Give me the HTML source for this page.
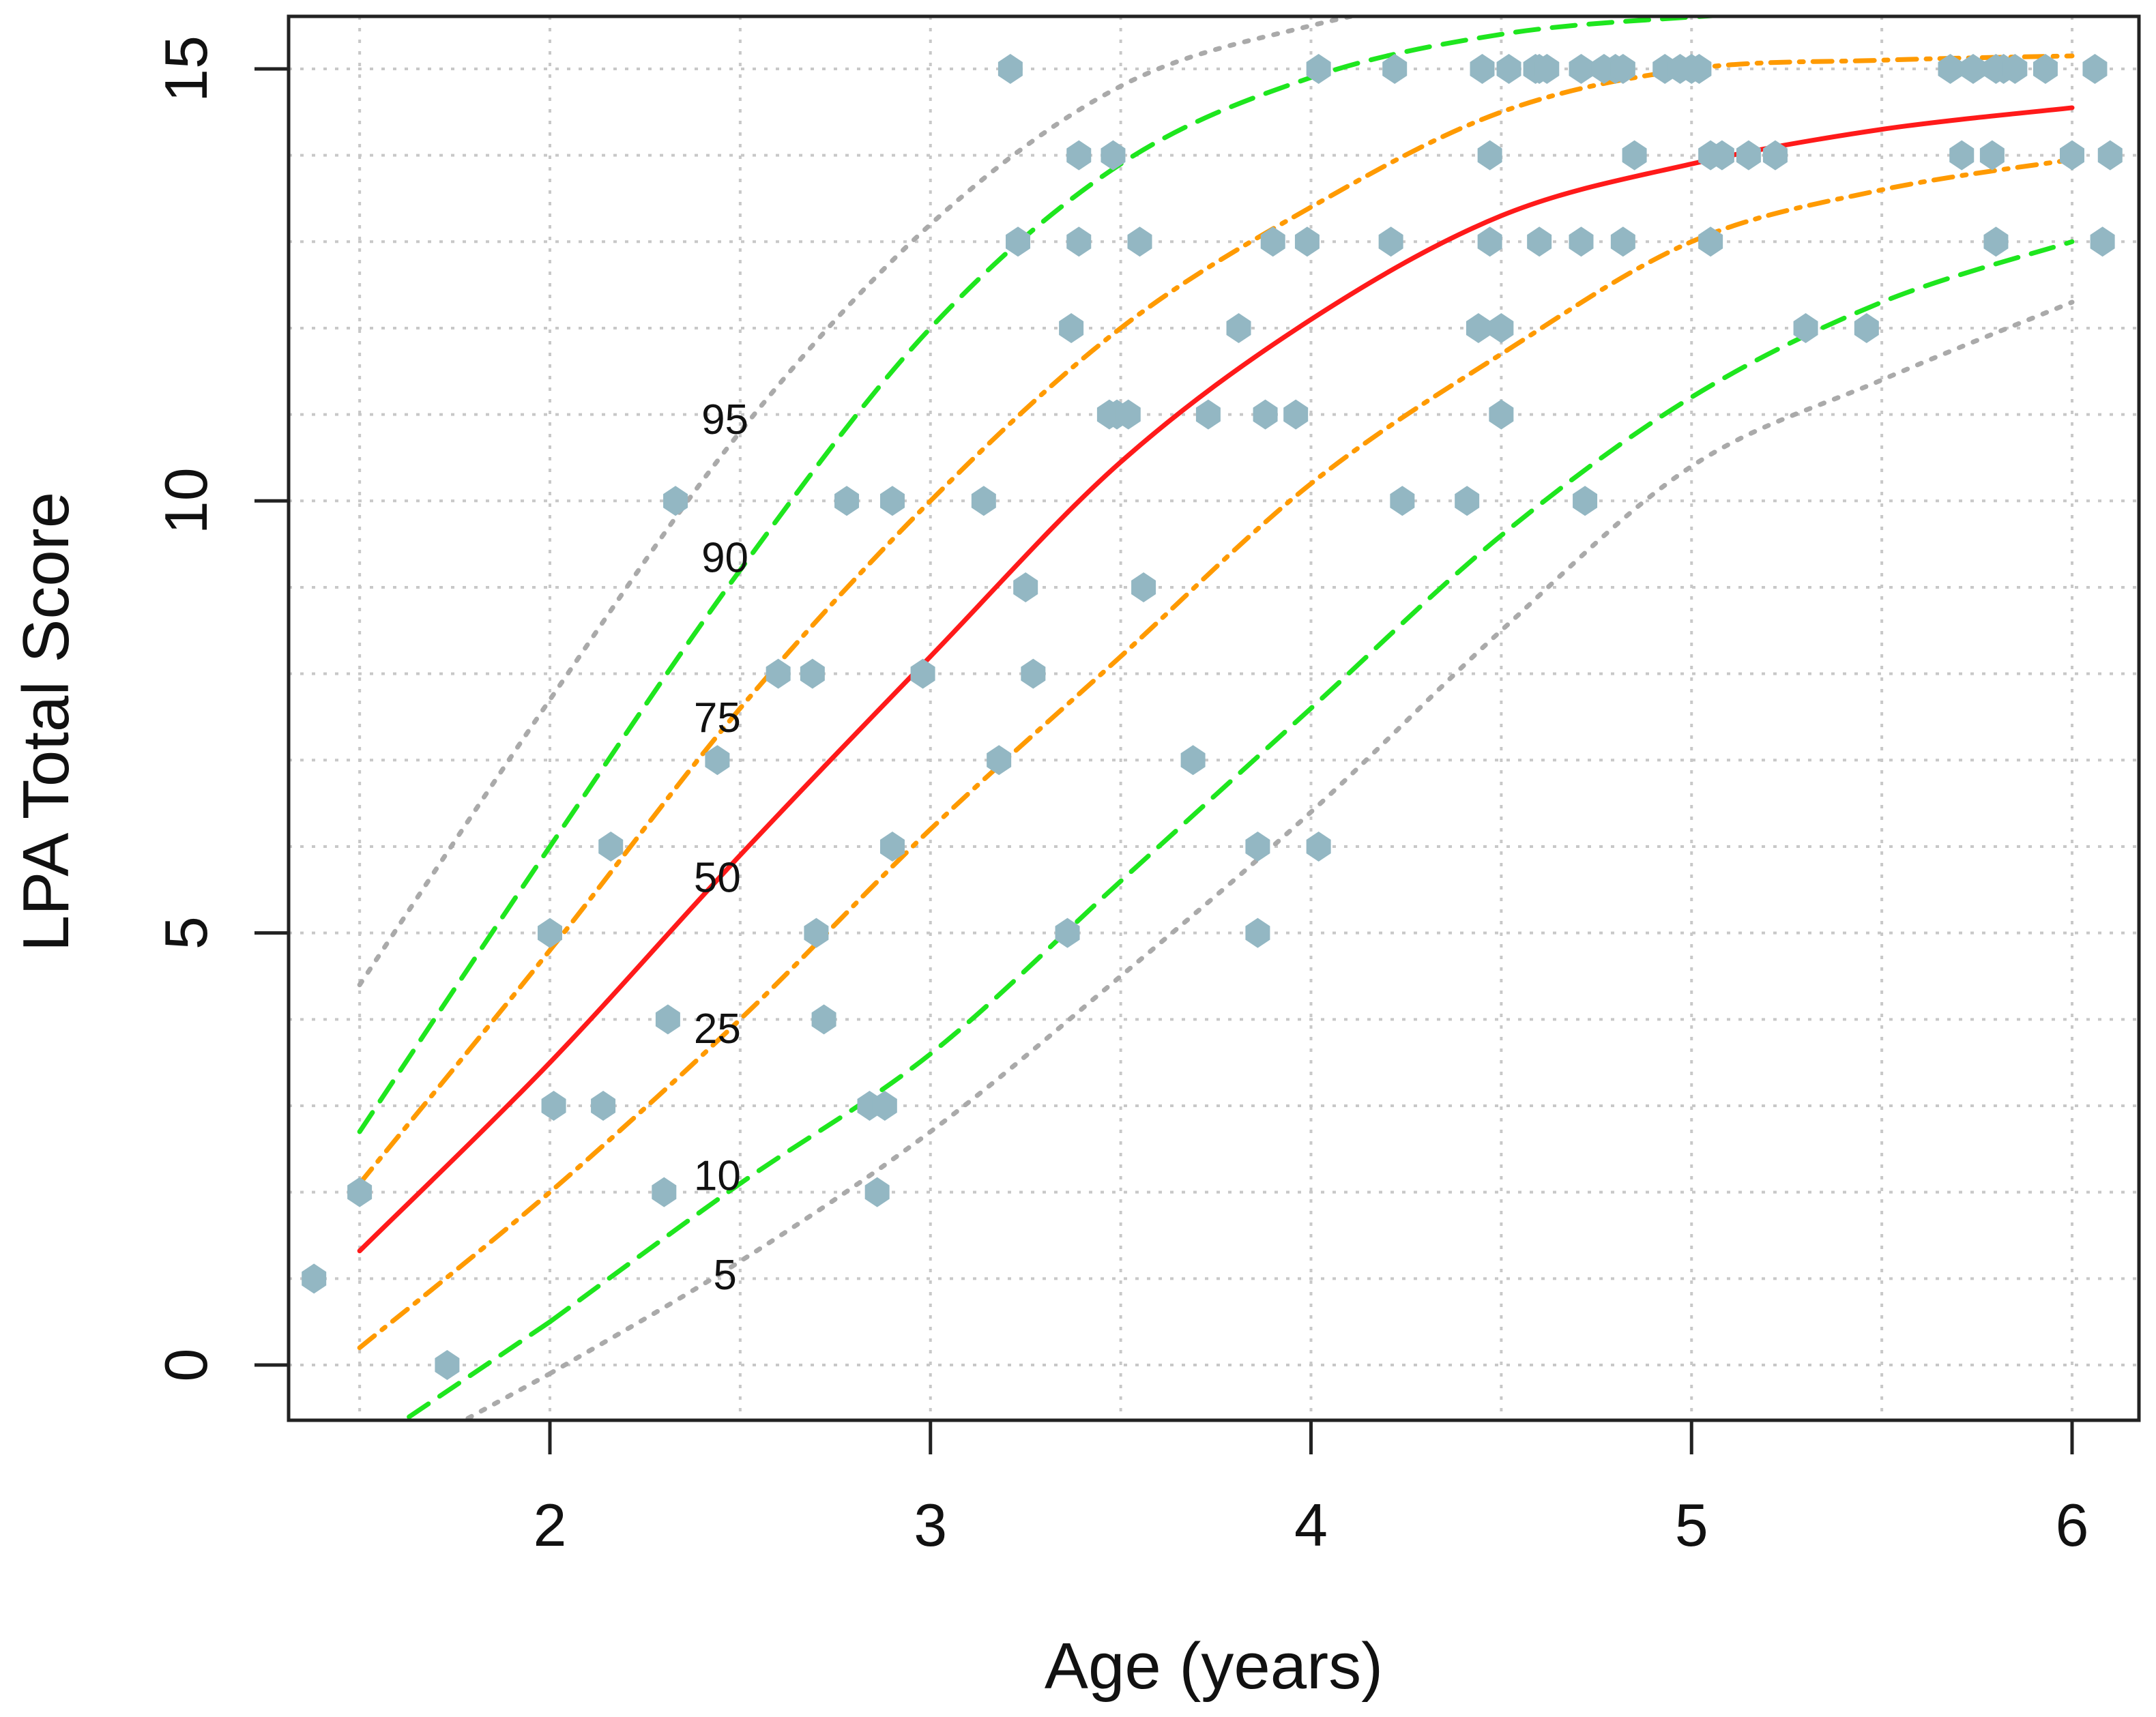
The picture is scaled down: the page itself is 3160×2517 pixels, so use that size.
<!DOCTYPE html>
<html><head><meta charset="utf-8"><style>
html,body{margin:0;padding:0;background:#fff;}
svg{display:block;font-family:"Liberation Sans",sans-serif;}
</style></head><body>
<svg id="chart" width="3160" height="2517" viewBox="0 0 3160 2517" xmlns="http://www.w3.org/2000/svg">
<defs><clipPath id="plotclip"><rect x="423" y="24" width="2712" height="2058"/></clipPath></defs>
<g id="grid"></g>
<g id="curves" clip-path="url(#plotclip)"></g>
<g id="points" clip-path="url(#plotclip)"></g>
<g id="labels"></g>
<rect x="423" y="24" width="2712" height="2058" fill="none" stroke="#222" stroke-width="5"/>
<g id="axes"></g>
<text transform="translate(100,1058) rotate(-90)" text-anchor="middle" font-size="96" fill="#111">LPA Total Score</text>
<text x="1779" y="2475" text-anchor="middle" font-size="96" fill="#111">Age (years)</text>
</svg>
<script>
const ages = [1.5,2,2.5,3,3.5,4,4.5,5,5.5,6];
const p5 = [null,-0.1,1.2,2.7,4.5,6.4,8.5,10.4,11.4,12.3];
const p10 = [null,0.5,2.1,3.6,5.6,7.6,9.6,11.2,12.3,13.0];
const p25 = [0.2,2.0,4.0,6.2,8.2,10.2,11.7,13.0,13.6,13.95];
const p50 = [1.32,3.5,5.9,8.2,10.45,12.1,13.3,13.9,14.3,14.55];
const p75 = [2.1,4.8,7.6,10.0,12.0,13.4,14.5,15.0,15.1,15.15];
const p90 = [2.7,6.0,9.2,12.0,13.9,14.9,15.4,15.6,15.7,15.75];
const p95 = [4.4,7.7,10.8,13.2,14.8,15.5,15.9,16.1,16.2,16.3];
const curveLabels = ["5","10","25","50","75","90","95"];
const labelAge = [2.46,2.44,2.44,2.44,2.44,2.46,2.46];
const labelVal = [1.05,2.2,3.9,5.65,7.5,9.35,10.95];
const ptAge = [1.38,1.50,1.73,2.0,2.01,2.14,2.16,2.30,2.31,2.33,2.44,2.60,2.69,2.70,2.72,2.78,2.90,2.90,2.84,2.88,2.86,2.98,3.14,3.18,3.21,3.23,3.25,3.27,3.36,3.37,3.39,3.39,3.48,3.47,3.49,3.52,3.55,3.56,3.69,3.73,3.81,3.86,3.86,3.88,3.90,3.96,3.99,4.02,4.02,4.21,4.22,4.24,4.41,4.44,4.45,4.47,4.47,4.50,4.50,4.52,4.59,4.60,4.62,4.60,4.71,4.71,4.72,4.77,4.80,4.82,4.82,4.85,4.93,4.97,5.0,5.02,5.05,5.05,5.08,5.15,5.22,5.30,5.46,5.68,5.74,5.80,5.82,5.85,5.93,6.06,5.71,5.79,5.80,6.0,6.10,6.08];
const ptVal = [1,2,0,5,3,3,6,2,4,10,7,8,8,5,4,10,10,6,3,3,2,8,10,7,15,13,9,8,5,12,14,13,14,11,11,11,13,9,7,11,12,6,5,11,13,11,13,15,6,13,15,10,10,12,15,14,13,12,11,15,15,15,15,13,15,13,10,15,15,15,13,14,15,15,15,15,13,14,14,14,14,12,12,15,15,15,15,15,15,15,14,14,13,14,14,13];
const xTicks = [2,3,4,5,6];
const yTicks = [0,5,10,15];

const NS = "http://www.w3.org/2000/svg";
const X = a => 806 + (a - 2) * 557.75;
const Y = v => 2001 - v * 126.67;
function mk(tag, attrs, parent){ const e = document.createElementNS(NS, tag); for (const k in attrs) e.setAttribute(k, attrs[k]); parent.appendChild(e); return e; }

const grid = document.getElementById('grid');
for (let a = 1.5; a <= 6.01; a += 0.5) {
  const l = mk('line', {x1:X(a), x2:X(a), y1:24, y2:2082, stroke:'#c8c8c8', 'stroke-width':4, 'stroke-dasharray':'5 12'}, grid);
  
  
}
for (let v = 0; v <= 15; v++) {
  const l = mk('line', {x1:423, x2:3135, y1:Y(v), y2:Y(v), stroke:'#c8c8c8', 'stroke-width':4, 'stroke-dasharray':'5 12'}, grid);
  
  
}

function pathFor(vals){
  const pts = [];
  ages.forEach((a,i)=>{ if (vals[i] !== null) pts.push([X(a), Y(vals[i])]); });
  let d = 'M' + pts[0][0] + ',' + pts[0][1];
  for (let i = 0; i < pts.length - 1; i++) {
    const p0 = pts[Math.max(0,i-1)], p1 = pts[i], p2 = pts[i+1], p3 = pts[Math.min(pts.length-1,i+2)];
    const c1 = [p1[0] + (p2[0]-p0[0])/6, p1[1] + (p2[1]-p0[1])/6];
    const c2 = [p2[0] - (p3[0]-p1[0])/6, p2[1] - (p3[1]-p1[1])/6];
    d += ' C' + c1 + ' ' + c2 + ' ' + p2;
  }
  return d;
}
const curves = document.getElementById('curves');
const series = [
  [p95,'#aaaaaa','6 16','curve-p95'],
  [p5,'#aaaaaa','6 16','curve-p5'],
  [p90,'#1ee61e','34 20','curve-p90'],
  [p10,'#1ee61e','34 20','curve-p10'],
  [p75,'#ff9a00','28 14 6 14','curve-p75'],
  [p25,'#ff9a00','28 14 6 14','curve-p25'],
  [p50,'#ff1a1a','none','curve-p50']
];
series.forEach(s=>{
  const p = mk('path', {d:pathFor(s[0]), fill:'none', stroke:s[1], 'stroke-width':7, 'stroke-linecap':'round'}, curves);
  if (s[2] !== 'none') p.setAttribute('stroke-dasharray', s[2]);
  
  
});
[[p10,'#1ee61e','34 20','curve-p10-tail',1.63,-0.6],[p5,'#aaaaaa','6 16','curve-p5-tail',1.75,-0.7]].forEach(s=>{
  const p = mk('line', {x1:X(s[4]), y1:Y(s[5]), x2:X(2), y2:Y(s[0][1]), stroke:s[1], 'stroke-width':7, 'stroke-dasharray':s[2], 'stroke-linecap':'round'}, curves);
  
  
});

const points = document.getElementById('points');
ptAge.forEach((a,i)=>{
  const x = X(a), y = Y(ptVal[i]);
  const p = mk('polygon', {points:`${x},${y-22} ${x+18},${y-10} ${x+18},${y+10} ${x},${y+22} ${x-18},${y+10} ${x-18},${y-10}`, fill:'#93b7c3'}, points);
  
  
});

const labels = document.getElementById('labels');
curveLabels.forEach((t,i)=>{
  const e = mk('text', {x:X(labelAge[i]), y:Y(labelVal[i]) + 22, 'text-anchor':'middle', 'font-size':62, fill:'#111'}, labels);
  e.textContent = t;
  
  
});

const axes = document.getElementById('axes');
xTicks.forEach(v=>{
  const l = mk('line', {x1:X(v), x2:X(v), y1:2082, y2:2132, stroke:'#222', 'stroke-width':5}, axes);
  
  
  const t = mk('text', {x:X(v), y:2266, 'text-anchor':'middle', 'font-size':88, fill:'#111'}, axes);
  t.textContent = v;
  
  
});
yTicks.forEach(v=>{
  const l = mk('line', {x1:373, x2:423, y1:Y(v), y2:Y(v), stroke:'#222', 'stroke-width':5}, axes);
  
  
  const t = mk('text', {transform:`translate(303,${Y(v)}) rotate(-90)`, 'text-anchor':'middle', 'font-size':88, fill:'#111'}, axes);
  t.textContent = v;
  
  
});
</script>
</body></html>
